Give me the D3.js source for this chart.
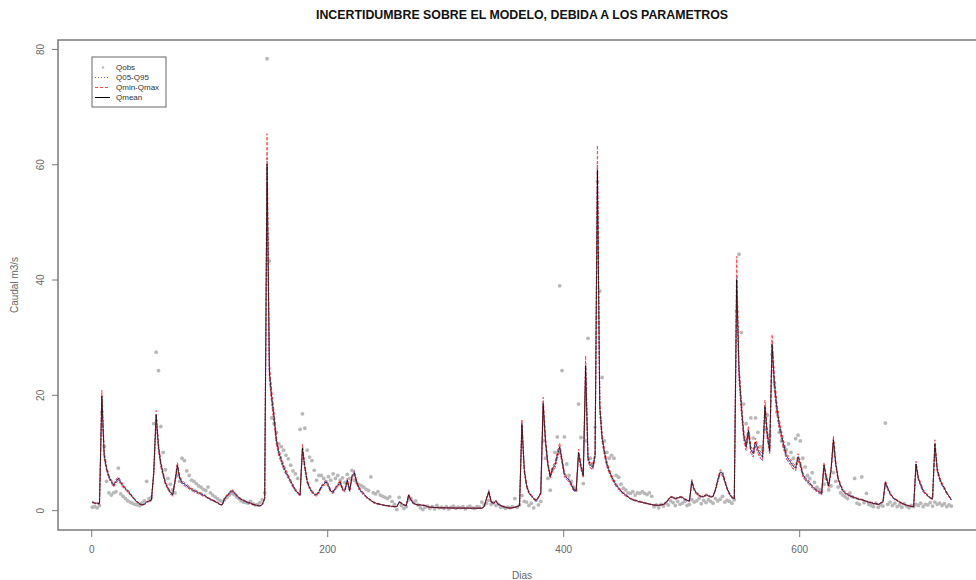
<!DOCTYPE html>
<html>
<head>
<meta charset="utf-8">
<script src="https://cdn.jsdelivr.net/npm/d3@7"></script>
<style>
    body { margin: 0; background: #fff; }
    svg { display: block; font-family: "Liberation Sans", Arial, sans-serif; }
</style>
</head>
<body>
<svg id="chart" width="976" height="580"></svg>
<script>
// one value every 2 days, first value = day 1
const paso = 2;

const qmean = [
    1.4,1.2,1.2,1.1,19.8,9.5,7.2,5.8,5.0,4.3,
    5.0,5.5,4.8,4.2,3.7,3.3,2.8,2.3,1.8,1.4,
    1.1,0.9,1.0,1.4,1.6,1.7,6.5,16.5,11.0,8.0,
    6.2,4.6,3.8,3.1,2.6,5.0,7.8,5.6,4.8,4.5,
    4.2,3.9,3.6,3.4,3.2,3.0,2.8,2.6,2.4,2.1,
    1.9,1.7,1.5,1.3,1.0,0.9,2.0,2.5,2.9,3.4,
    3.1,2.6,2.2,1.9,1.7,1.5,1.3,1.2,1.0,0.9,
    0.8,0.7,1.0,2.0,60.0,24.0,19.5,16.0,12.0,10.0,
    8.7,7.5,6.6,5.8,5.0,4.2,3.5,3.0,2.6,10.8,
    7.5,5.0,3.9,3.2,2.8,2.6,3.2,4.0,4.5,4.9,
    4.3,3.3,3.1,3.8,4.3,4.9,3.6,3.4,5.2,3.4,
    5.8,6.5,4.8,3.8,3.2,2.8,2.3,2.0,1.7,1.4,
    1.2,1.1,1.0,0.9,0.8,0.75,0.7,0.65,0.6,0.6,
    1.4,1.2,0.9,0.8,2.6,1.8,1.2,1.0,0.9,0.9,
    0.85,0.8,0.6,0.5,0.5,0.45,0.45,0.4,0.4,0.4,
    0.4,0.38,0.38,0.36,0.36,0.35,0.35,0.35,0.34,0.34,
    0.33,0.33,0.33,0.33,0.33,0.33,0.6,2.0,3.2,1.4,
    1.2,1.6,1.0,0.8,0.6,0.5,0.4,0.35,0.4,0.5,
    0.6,0.8,15.0,7.0,4.2,3.0,2.5,2.0,1.7,2.2,
    3.0,18.5,12.0,8.0,5.8,7.2,7.8,9.5,11.0,8.6,
    6.2,5.6,5.2,4.4,3.5,3.4,10.0,7.6,6.0,25.0,
    9.0,7.8,7.4,9.5,59.0,18.0,12.5,10.0,8.0,6.8,
    5.8,5.0,4.3,3.8,3.3,2.9,2.6,2.3,2.0,1.8,
    1.7,1.55,1.45,1.35,1.25,1.15,1.05,0.95,0.9,0.85,
    0.85,0.9,1.0,1.3,1.8,2.3,2.2,2.0,2.1,2.3,
    2.2,1.9,1.7,1.6,5.0,3.6,2.9,2.6,2.3,2.4,
    2.6,2.5,2.3,2.4,3.5,5.2,6.6,6.4,5.0,3.7,
    2.8,2.2,2.0,40.0,24.0,18.0,13.0,11.0,13.8,10.5,
    9.8,11.8,10.5,9.6,9.2,18.0,13.0,10.3,28.8,22.0,
    17.8,15.0,13.0,11.2,9.5,8.8,8.2,7.6,7.3,9.2,
    8.0,6.2,5.5,5.0,4.6,4.1,3.7,3.4,3.1,2.9,
    7.8,5.6,4.2,7.0,12.2,8.0,5.5,4.3,3.4,3.0,
    2.7,2.5,2.3,2.2,2.0,1.9,1.8,1.7,1.5,1.4,
    1.3,1.15,1.1,1.0,1.2,1.45,4.8,3.8,2.9,2.3,
    1.9,1.7,1.4,1.2,1.0,0.86,0.75,0.65,0.6,8.0,
    5.5,4.4,3.4,2.9,2.5,2.1,2.0,11.5,7.0,5.5,
    4.5,3.8,3.0,2.4,1.8
];

const qobs = [
    0.5,0.6,0.4,0.8,17.0,11.0,5.0,3.0,2.6,3.0,
    3.2,7.3,2.8,2.4,2.0,1.6,1.4,1.2,1.0,0.9,
    0.8,1.2,1.6,5.0,2.0,2.2,15.0,27.4,24.2,14.5,
    10.0,7.0,5.5,4.5,3.5,3.0,6.0,5.0,9.0,8.6,
    6.8,6.0,5.2,5.0,4.6,4.2,4.0,3.6,3.4,4.0,
    3.0,2.6,2.3,2.0,1.7,1.5,1.8,2.2,2.6,2.9,
    2.7,2.3,2.0,1.6,1.4,1.3,1.2,1.5,1.1,0.9,
    1.0,1.3,1.8,3.0,78.3,43.2,16.0,15.0,13.5,11.5,
    11.0,10.4,9.5,8.9,7.8,6.8,6.3,5.5,14.0,16.7,
    14.2,10.4,9.2,8.6,6.9,5.2,6.0,6.0,5.5,5.0,
    5.8,5.2,6.3,5.5,6.0,5.2,5.6,4.8,6.2,5.5,
    6.9,5.2,4.8,4.4,4.2,4.0,3.6,3.4,5.75,3.0,
    2.8,3.2,2.6,2.4,2.2,2.0,2.3,1.5,1.0,0.1,
    2.2,0.8,0.3,0.6,1.8,2.0,1.4,1.6,0.9,0.4,
    0.1,0.5,0.7,0.3,0.6,0.2,0.8,0.4,0.5,0.3,
    0.6,0.2,0.5,0.7,0.3,0.5,0.4,0.6,0.2,0.5,
    0.7,0.4,0.3,0.6,0.5,1.4,0.9,1.2,1.7,1.0,
    1.3,0.8,1.0,0.5,0.6,0.3,0.5,0.4,0.6,2.0,
    0.5,0.9,2.5,1.5,1.4,0.8,1.2,0.4,1.7,0.9,
    1.5,12.0,9.0,5.5,3.45,7.0,10.0,12.7,38.9,24.2,
    12.7,8.0,6.0,5.0,4.0,3.5,18.4,12.6,4.6,12.0,
    29.8,9.0,8.0,14.4,57.0,38.0,23.0,12.0,10.0,9.0,
    9.5,9.0,6.0,5.7,4.5,3.8,3.5,3.0,2.9,3.2,
    2.6,3.0,2.9,3.2,2.9,2.7,3.0,2.4,0.6,0.9,
    0.4,1.0,0.7,1.2,0.9,1.6,1.3,0.8,1.5,1.0,
    1.2,1.5,0.8,1.0,1.8,1.4,1.6,2.0,1.1,1.7,
    1.3,1.8,1.5,1.2,2.0,1.6,1.9,2.4,1.4,1.7,
    1.5,1.2,1.8,34.5,44.4,30.8,18.4,15.0,13.0,16.0,
    12.5,16.0,13.5,11.0,10.5,14.0,16.5,13.0,27.0,22.0,
    17.0,13.5,12.0,11.0,10.5,11.5,10.0,9.0,12.4,13.0,
    12.0,9.0,7.5,6.0,5.5,6.5,4.8,4.0,3.6,3.2,
    4.5,5.5,3.5,4.2,6.5,5.0,4.0,3.0,2.6,2.3,
    2.0,3.0,2.3,5.5,1.2,1.0,5.75,1.3,2.9,1.0,
    0.8,0.6,1.2,0.5,0.9,0.7,15.1,1.0,1.4,0.8,
    1.2,0.6,0.9,0.5,1.1,0.7,0.4,0.8,0.6,1.0,
    0.8,1.2,0.6,1.0,0.9,1.3,0.7,1.4,1.0,1.2,
    0.8,1.1,0.6,0.9,0.7
];

const qmax = [
    1.5,1.3,1.3,1.2,20.8,10.1,7.6,6.1,5.3,4.6,
    5.3,5.8,5.1,4.5,3.9,3.5,3.0,2.4,1.9,1.5,
    1.2,0.95,1.06,1.5,1.7,1.8,6.9,17.3,11.7,8.5,
    6.6,4.9,4.0,3.3,2.8,5.3,8.3,5.9,5.1,4.8,
    4.5,4.1,3.8,3.6,3.4,3.2,3.0,2.8,2.5,2.2,
    2.0,1.8,1.6,1.4,1.06,0.95,2.1,2.7,3.1,3.6,
    3.3,2.8,2.3,2.0,1.8,1.6,1.4,1.3,1.06,0.95,
    0.85,0.75,1.06,2.1,65.3,25.5,20.7,17.0,12.7,10.6,
    9.2,8.0,7.0,6.1,5.3,4.5,3.7,3.2,2.8,11.4,
    8.0,5.3,4.1,3.4,3.0,2.8,3.4,4.2,4.8,5.2,
    4.6,3.5,3.3,4.0,4.6,5.2,3.8,3.6,5.5,3.6,
    6.1,6.9,5.1,4.0,3.4,3.0,2.4,2.1,1.8,1.5,
    1.3,1.2,1.06,0.95,0.85,0.8,0.74,0.69,0.64,0.64,
    1.5,1.3,0.95,0.85,2.8,1.9,1.3,1.06,0.95,0.95,
    0.9,0.85,0.64,0.53,0.53,0.48,0.48,0.42,0.42,0.42,
    0.42,0.4,0.4,0.38,0.38,0.37,0.37,0.37,0.36,0.36,
    0.35,0.35,0.35,0.35,0.35,0.35,0.64,2.1,3.4,1.5,
    1.3,1.7,1.06,0.85,0.64,0.53,0.42,0.37,0.42,0.53,
    0.64,0.85,15.8,7.4,4.5,3.2,2.7,2.1,1.8,2.3,
    3.2,19.6,12.7,8.5,6.1,7.6,8.3,10.1,11.7,9.1,
    6.6,5.9,5.5,4.7,3.7,3.6,10.6,8.1,6.4,26.8,
    9.5,8.3,7.8,10.1,63.3,19.1,13.3,10.6,8.5,7.2,
    6.1,5.3,4.6,4.0,3.5,3.1,2.8,2.4,2.1,1.9,
    1.8,1.65,1.55,1.43,1.33,1.22,1.11,1.0,0.95,0.9,
    0.9,0.95,1.06,1.4,1.9,2.4,2.3,2.1,2.2,2.4,
    2.3,2.0,1.8,1.7,5.3,3.8,3.1,2.8,2.4,2.5,
    2.8,2.7,2.4,2.5,3.7,5.5,7.0,6.8,5.3,3.9,
    3.0,2.3,2.1,44.0,25.4,19.1,13.8,11.7,14.6,11.1,
    10.4,12.5,11.1,10.2,9.8,19.1,13.8,10.9,30.5,23.3,
    18.9,15.9,13.8,11.9,10.1,9.3,8.7,8.1,7.7,9.8,
    8.5,6.6,5.8,5.3,4.9,4.3,3.9,3.6,3.3,3.1,
    8.3,5.9,4.5,7.4,12.9,8.5,5.8,4.6,3.6,3.2,
    2.9,2.7,2.4,2.3,2.1,2.0,1.9,1.8,1.6,1.5,
    1.4,1.22,1.17,1.06,1.3,1.54,5.1,4.0,3.1,2.4,
    2.0,1.8,1.5,1.3,1.06,0.91,0.8,0.69,0.64,8.5,
    5.8,4.7,3.6,3.1,2.7,2.2,2.1,12.2,7.4,5.8,
    4.8,4.0,3.2,2.5,1.9
];

const qmin = [
    1.3,1.1,1.1,1.0,18.6,8.9,6.8,5.5,4.7,4.0,
    4.7,5.2,4.5,3.9,3.5,3.1,2.6,2.2,1.7,1.3,
    1.0,0.85,0.94,1.3,1.5,1.6,6.1,15.5,10.3,7.5,
    5.8,4.3,3.6,2.9,2.4,4.7,7.3,5.3,4.5,4.2,
    3.9,3.7,3.4,3.2,3.0,2.8,2.6,2.4,2.3,2.0,
    1.8,1.6,1.4,1.2,0.94,0.85,1.9,2.4,2.7,3.2,
    2.9,2.4,2.1,1.8,1.6,1.4,1.2,1.1,0.94,0.85,
    0.75,0.66,0.94,1.9,56.4,22.6,18.3,15.0,11.3,9.4,
    8.2,7.1,6.2,5.5,4.7,3.9,3.3,2.8,2.4,10.2,
    7.1,4.7,3.7,3.0,2.6,2.4,3.0,3.8,4.2,4.6,
    4.0,3.1,2.9,3.6,4.0,4.6,3.4,3.2,4.9,3.2,
    5.5,6.1,4.5,3.6,3.0,2.6,2.2,1.9,1.6,1.3,
    1.1,1.0,0.94,0.85,0.75,0.7,0.66,0.61,0.56,0.56,
    1.3,1.1,0.85,0.75,2.4,1.7,1.1,0.94,0.85,0.85,
    0.8,0.75,0.56,0.47,0.47,0.42,0.42,0.38,0.38,0.38,
    0.38,0.36,0.36,0.34,0.34,0.33,0.33,0.33,0.32,0.32,
    0.31,0.31,0.31,0.31,0.31,0.31,0.56,1.9,3.0,1.3,
    1.1,1.5,0.94,0.75,0.56,0.47,0.38,0.33,0.38,0.47,
    0.56,0.75,14.1,6.6,3.9,2.8,2.4,1.9,1.6,2.1,
    2.8,17.4,11.3,7.5,5.5,6.8,7.3,8.9,10.3,8.1,
    5.8,5.3,4.9,4.1,3.3,3.2,9.4,7.1,5.6,23.5,
    8.5,7.3,7.0,8.9,55.5,16.9,11.8,9.4,7.5,6.4,
    5.5,4.7,4.0,3.6,3.1,2.7,2.4,2.2,1.9,1.7,
    1.6,1.46,1.36,1.27,1.18,1.08,0.99,0.89,0.85,0.8,
    0.8,0.85,0.94,1.2,1.7,2.2,2.1,1.9,2.0,2.2,
    2.1,1.8,1.6,1.5,4.7,3.4,2.7,2.4,2.2,2.3,
    2.4,2.4,2.2,2.3,3.3,4.9,6.2,6.0,4.7,3.5,
    2.6,2.1,1.9,37.6,22.6,16.9,12.2,10.3,13.0,9.9,
    9.2,11.1,9.9,9.0,8.6,16.9,12.2,9.7,27.1,20.7,
    16.7,14.1,12.2,10.5,8.9,8.3,7.7,7.1,6.9,8.6,
    7.5,5.8,5.2,4.7,4.3,3.9,3.5,3.2,2.9,2.7,
    7.3,5.3,3.9,6.6,11.5,7.5,5.2,4.0,3.2,2.8,
    2.5,2.4,2.2,2.1,1.9,1.8,1.7,1.6,1.4,1.3,
    1.2,1.08,1.03,0.94,1.1,1.36,4.5,3.6,2.7,2.2,
    1.8,1.6,1.3,1.1,0.94,0.81,0.71,0.61,0.56,7.5,
    5.2,4.1,3.2,2.7,2.4,2.0,1.9,10.8,6.6,5.2,
    4.2,3.6,2.8,2.3,1.7
];

const q95 = [
    1.4,1.2,1.2,1.1,20.2,9.7,7.3,5.9,5.1,4.4,
    5.1,5.6,4.9,4.3,3.8,3.4,2.9,2.3,1.8,1.4,
    1.1,0.92,1.02,1.4,1.6,1.7,6.6,16.8,11.2,8.2,
    6.3,4.7,3.9,3.2,2.7,5.1,8.0,5.7,4.9,4.6,
    4.3,4.0,3.7,3.5,3.3,3.1,2.9,2.7,2.4,2.1,
    1.9,1.7,1.5,1.3,1.02,0.92,2.0,2.6,3.0,3.5,
    3.2,2.7,2.2,1.9,1.7,1.5,1.3,1.2,1.02,0.92,
    0.82,0.71,1.02,2.0,61.5,24.5,19.9,16.3,12.2,10.2,
    8.9,7.7,6.7,5.9,5.1,4.3,3.6,3.1,2.7,11.0,
    7.7,5.1,4.0,3.3,2.9,2.7,3.3,4.1,4.6,5.0,
    4.4,3.4,3.2,3.9,4.4,5.0,3.7,3.5,5.3,3.5,
    5.9,6.6,4.9,3.9,3.3,2.9,2.3,2.0,1.7,1.4,
    1.2,1.1,1.02,0.92,0.82,0.77,0.71,0.66,0.61,0.61,
    1.4,1.2,0.92,0.82,2.7,1.8,1.2,1.02,0.92,0.92,
    0.87,0.82,0.61,0.51,0.51,0.46,0.46,0.41,0.41,0.41,
    0.41,0.39,0.39,0.37,0.37,0.36,0.36,0.36,0.35,0.35,
    0.34,0.34,0.34,0.34,0.34,0.34,0.61,2.0,3.3,1.4,
    1.2,1.6,1.02,0.82,0.61,0.51,0.41,0.36,0.41,0.51,
    0.61,0.82,15.3,7.1,4.3,3.1,2.6,2.0,1.7,2.2,
    3.1,18.9,12.2,8.2,5.9,7.3,8.0,9.7,11.2,8.8,
    6.3,5.7,5.3,4.5,3.6,3.5,10.2,7.8,6.1,25.5,
    9.2,8.0,7.5,9.7,60.2,18.4,12.8,10.2,8.2,6.9,
    5.9,5.1,4.4,3.9,3.4,3.0,2.7,2.3,2.0,1.8,
    1.7,1.58,1.48,1.38,1.28,1.17,1.07,0.97,0.92,0.87,
    0.87,0.92,1.02,1.3,1.8,2.3,2.2,2.0,2.1,2.3,
    2.2,1.9,1.7,1.6,5.1,3.7,3.0,2.7,2.3,2.4,
    2.7,2.6,2.3,2.4,3.6,5.3,6.7,6.5,5.1,3.8,
    2.9,2.2,2.0,40.8,24.5,18.4,13.3,11.2,14.1,10.7,
    10.0,12.0,10.7,9.8,9.4,18.4,13.3,10.5,29.4,22.4,
    18.2,15.3,13.3,11.4,9.7,9.0,8.4,7.8,7.4,9.4,
    8.2,6.3,5.6,5.1,4.7,4.2,3.8,3.5,3.2,3.0,
    8.0,5.7,4.3,7.1,12.4,8.2,5.6,4.4,3.5,3.1,
    2.8,2.6,2.3,2.2,2.0,1.9,1.8,1.7,1.5,1.4,
    1.3,1.17,1.12,1.02,1.2,1.48,4.9,3.9,3.0,2.3,
    1.9,1.7,1.4,1.2,1.02,0.88,0.77,0.66,0.61,8.2,
    5.6,4.5,3.5,3.0,2.6,2.1,2.0,11.7,7.1,5.6,
    4.6,3.9,3.1,2.4,1.8
];

const q05 = [
    1.3,1.1,1.1,1.0,18.8,9.0,6.8,5.5,4.8,4.1,
    4.8,5.2,4.6,4.0,3.5,3.1,2.7,2.2,1.7,1.3,
    1.0,0.86,0.95,1.3,1.5,1.6,6.2,15.7,10.5,7.6,
    5.9,4.4,3.6,2.9,2.5,4.8,7.4,5.3,4.6,4.3,
    4.0,3.7,3.4,3.2,3.0,2.9,2.7,2.5,2.3,2.0,
    1.8,1.6,1.4,1.2,0.95,0.86,1.9,2.4,2.8,3.2,
    2.9,2.5,2.1,1.8,1.6,1.4,1.2,1.1,0.95,0.86,
    0.76,0.67,0.95,1.9,57.0,22.8,18.5,15.2,11.4,9.5,
    8.3,7.1,6.3,5.5,4.8,4.0,3.3,2.9,2.5,10.3,
    7.1,4.8,3.7,3.0,2.7,2.5,3.0,3.8,4.3,4.7,
    4.1,3.1,2.9,3.6,4.1,4.7,3.4,3.2,4.9,3.2,
    5.5,6.2,4.6,3.6,3.0,2.7,2.2,1.9,1.6,1.3,
    1.1,1.0,0.95,0.86,0.76,0.71,0.67,0.62,0.57,0.57,
    1.3,1.1,0.86,0.76,2.5,1.7,1.1,0.95,0.86,0.86,
    0.81,0.76,0.57,0.48,0.48,0.43,0.43,0.38,0.38,0.38,
    0.38,0.36,0.36,0.34,0.34,0.33,0.33,0.33,0.32,0.32,
    0.31,0.31,0.31,0.31,0.31,0.31,0.57,1.9,3.0,1.3,
    1.1,1.5,0.95,0.76,0.57,0.48,0.38,0.33,0.38,0.48,
    0.57,0.76,14.3,6.7,4.0,2.9,2.4,1.9,1.6,2.1,
    2.9,17.6,11.4,7.6,5.5,6.8,7.4,9.0,10.5,8.2,
    5.9,5.3,4.9,4.2,3.3,3.2,9.5,7.2,5.7,23.8,
    8.6,7.4,7.0,9.0,56.1,17.1,11.9,9.5,7.6,6.5,
    5.5,4.8,4.1,3.6,3.1,2.8,2.5,2.2,1.9,1.7,
    1.6,1.47,1.38,1.28,1.19,1.09,1.0,0.9,0.86,0.81,
    0.81,0.86,0.95,1.2,1.7,2.2,2.1,1.9,2.0,2.2,
    2.1,1.8,1.6,1.5,4.8,3.4,2.8,2.5,2.2,2.3,
    2.5,2.4,2.2,2.3,3.3,4.9,6.3,6.1,4.8,3.5,
    2.7,2.1,1.9,38.0,22.8,17.1,12.4,10.5,13.1,10.0,
    9.3,11.2,10.0,9.1,8.7,17.1,12.4,9.8,27.4,20.9,
    16.9,14.3,12.4,10.6,9.0,8.4,7.8,7.2,6.9,8.7,
    7.6,5.9,5.2,4.8,4.4,3.9,3.5,3.2,2.9,2.8,
    7.4,5.3,4.0,6.7,11.6,7.6,5.2,4.1,3.2,2.9,
    2.6,2.4,2.2,2.1,1.9,1.8,1.7,1.6,1.4,1.3,
    1.2,1.09,1.05,0.95,1.1,1.38,4.6,3.6,2.8,2.2,
    1.8,1.6,1.3,1.1,0.95,0.82,0.71,0.62,0.57,7.6,
    5.2,4.2,3.2,2.8,2.4,2.0,1.9,10.9,6.7,5.2,
    4.3,3.6,2.9,2.3,1.7
];

const xTicks = [0, 200, 400, 600];
const yTicks = [0, 20, 40, 60, 80];
const titulo = "INCERTIDUMBRE SOBRE EL MODELO, DEBIDA A LOS PARAMETROS";

const azul = "#5c5cff";
const rojo = "#ff4848";

const dias = qmean.map((d, i) => 1 + i * paso);

const svg = d3.select("#chart");

const x = d3.scaleLinear().domain([-28.16, 759.16]).range([58, 987]);
const y = d3.scaleLinear().domain([-3.45, 81.55]).range([530, 40]);

// observed points
svg.append("g")
    .selectAll("circle")
    .data(qobs)
    .enter()
    .append("circle")
    .attr("cx", (d, i) => x(dias[i]))
    .attr("cy", d => y(d))
    .attr("r", 1.9)
    .style("fill", "#b8b8b8");

const line = d3.line()
    .x((d, i) => x(dias[i]))
    .y(d => y(d));

const series = [
    { values: q05, color: azul, dash: "1,2", width: 1.2, opacity: 1 },
    { values: q95, color: azul, dash: "1,2", width: 1.2, opacity: 1 },
    { values: qmin, color: rojo, dash: "3,2", width: 1, opacity: 1 },
    { values: qmax, color: rojo, dash: "3,2", width: 1, opacity: 1 },
    { values: qmean, color: "#000000", dash: null, width: 1, opacity: 0.7 },
];

series.forEach(s => {
    svg.append("path")
        .attr("d", line(s.values))
        .style("fill", "none")
        .style("stroke", s.color)
        .style("stroke-width", s.width + "px")
        .style("stroke-opacity", s.opacity)
        .style("stroke-dasharray", s.dash);
});

// box
svg.append("rect")
    .attr("x", x(-28.16))
    .attr("y", y(81.55))
    .attr("width", x(759.16) - x(-28.16))
    .attr("height", y(-3.45) - y(81.55))
    .style("fill", "none")
    .style("stroke", "#7a7a7a")
    .style("stroke-width", "1.5px");

const xAxis = svg.append("g")
    .attr("transform", "translate(0," + y(-3.45) + ")")
    .call(d3.axisBottom(x).tickValues(xTicks).tickSize(7).tickPadding(9));

const yAxis = svg.append("g")
    .attr("transform", "translate(" + x(-28.16) + ",0)")
    .call(d3.axisLeft(y).tickValues(yTicks).tickSize(6));

[xAxis, yAxis].forEach(ax => {
    ax.select(".domain").remove();
    ax.selectAll("line").style("stroke", "#7a7a7a");
    ax.selectAll("text")
        .style("fill", "#666")
        .style("font-size", "10px")
        .style("font-family", "Liberation Sans, Arial, sans-serif");
});

yAxis.selectAll("text")
    .attr("x", 0)
    .attr("dy", "0.35em")
    .attr("text-anchor", "middle")
    .attr("transform", "translate(-18,0) rotate(-90)");

svg.append("text")
    .attr("x", 522)
    .attr("y", 19)
    .attr("text-anchor", "middle")
    .attr("textLength", 412)
    .attr("lengthAdjust", "spacingAndGlyphs")
    .style("font-size", "12px")
    .style("font-weight", "bold")
    .style("fill", "#111")
    .text(titulo);

svg.append("text")
    .attr("x", 522)
    .attr("y", 579)
    .attr("text-anchor", "middle")
    .style("font-size", "10px")
    .style("fill", "#666")
    .text("Dias");

svg.append("text")
    .attr("transform", "translate(18,285) rotate(-90)")
    .attr("text-anchor", "middle")
    .style("font-size", "10px")
    .style("fill", "#666")
    .text("Caudal m3/s");

// legend
const legend = svg.append("g");

legend.append("rect")
    .attr("x", 92)
    .attr("y", 57)
    .attr("width", 74)
    .attr("height", 50)
    .style("fill", "#fff")
    .style("stroke", "#666")
    .style("stroke-width", "1px");

const items = [
    { label: "Qobs", type: "point", color: "#b8b8b8" },
    { label: "Q05-Q95", type: "line", color: azul, dash: "1,2" },
    { label: "Qmin-Qmax", type: "line", color: rojo, dash: "3,2" },
    { label: "Qmean", type: "line", color: "#000000", dash: null },
];

items.forEach((item, i) => {
    const ly = 67.5 + i * 10;
    if (item.type === "point") {
        legend.append("circle")
            .attr("cx", 103)
            .attr("cy", ly)
            .attr("r", 1.2)
            .style("fill", item.color);
    } else {
        legend.append("line")
            .attr("x1", 95).attr("x2", 110)
            .attr("y1", ly).attr("y2", ly)
            .style("stroke", item.color)
            .style("stroke-width", "1px")
            .style("stroke-dasharray", item.dash);
    }
    legend.append("text")
        .attr("x", 116)
        .attr("y", ly)
        .attr("dy", "0.35em")
        .style("font-size", "8px")
        .style("fill", "#333")
        .text(item.label);
});
</script>
</body>
</html>
